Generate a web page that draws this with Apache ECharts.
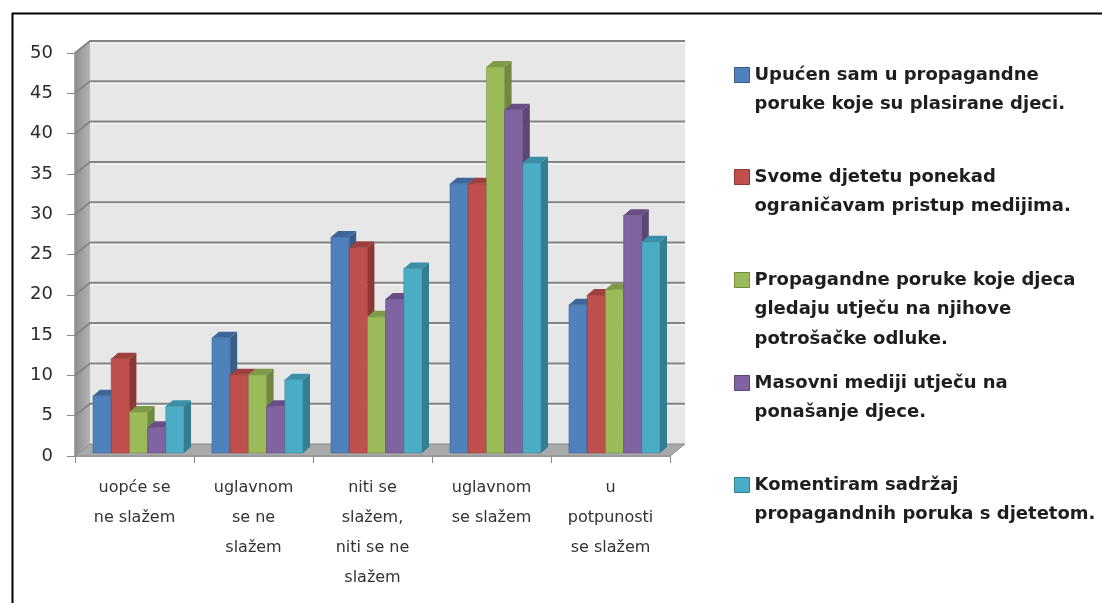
<!DOCTYPE html>
<html>
<head>
<meta charset="utf-8">
<script src="https://cdn.jsdelivr.net/npm/echarts@6/dist/echarts.min.js"></script>
<style>
  html, body { margin: 0; padding: 0; background: #fff; }
  #chart { width: 1102px; height: 603px; }
</style>
</head>
<body>
<div id="chart"></div>
<script>
// Kategorije (os x)
var categories = [
    'uopće se\nne slažem',
    'uglavnom\nse ne\nslažem',
    'niti se\nslažem,\nniti se ne\nslažem',
    'uglavnom\nse slažem',
    'u\npotpunosti\nse slažem'
];

// Nazivi serija (legenda)
var seriesNames = [
    'Upućen sam u propagandne\nporuke koje su plasirane djeci.',
    'Svome djetetu ponekad\nograničavam pristup medijima.',
    'Propagandne poruke koje djeca\ngledaju utječu na njihove\npotrošačke odluke.',
    'Masovni mediji utječu na\nponašanje djece.',
    'Komentiram sadržaj\npropagandnih poruka s djetetom.'
];

// Vrijednosti po serijama
var upucen = [7.1, 14.3, 26.8, 33.4, 18.4];
var ogranicavam = [11.7, 9.7, 25.5, 33.4, 19.6];
var propagandne = [5.1, 9.7, 16.9, 47.9, 20.3];
var masovni = [3.2, 5.8, 19.1, 42.6, 29.5];
var komentiram = [5.8, 9.1, 22.9, 36.0, 26.2];

// Oznake na osi y
var yTicks = [0, 5, 10, 15, 20, 25, 30, 35, 40, 45, 50];

var seriesValues = [upucen, ogranicavam, propagandne, masovni, komentiram];

var colors = ['#4F81BD', '#C0504D', '#9BBB59', '#8064A2', '#4BACC6'];
var sideColors = ['#385D8A', '#8C3836', '#71893F', '#5C4776', '#357D91'];
var topColors = ['#3D6799', '#9E403D', '#7E9A48', '#674F86', '#3B8FA6'];

// 3D dubina zidova i stupaca
var DX = 15, DY = -12;
var BDX = 7, BDY = -6;

var chartDom = document.getElementById('chart');
var myChart = echarts.init(chartDom);

// Zidovi i pod (pozadina 3D grafa)
function renderWalls(params, api) {
    var cs = params.coordSys;
    var x0 = cs.x, w = cs.width;
    var yTop = api.coord([0, 50])[1];
    var yBot = api.coord([0, 0])[1];
    var children = [];

    children.push({
        type: 'polygon',
        shape: { points: [[x0, yTop], [x0 + DX, yTop + DY], [x0 + DX, yBot + DY], [x0, yBot]] },
        style: {
            fill: new echarts.graphic.LinearGradient(0, 0, 1, 0, [
                { offset: 0, color: '#8e8e8e' },
                { offset: 1, color: '#b4b4b4' }
            ])
        }
    });
    children.push({
        type: 'rect',
        shape: { x: x0 + DX, y: yTop + DY, width: w, height: yBot - yTop },
        style: { fill: '#e7e7e7' }
    });
    children.push({
        type: 'polygon',
        shape: { points: [[x0, yBot], [x0 + w, yBot], [x0 + w + DX, yBot + DY], [x0 + DX, yBot + DY]] },
        style: { fill: '#a9a9a9', stroke: '#8a8a8a', lineWidth: 1 }
    });

    yTicks.forEach(function (v) {
        if (v === 0) return;
        var y = api.coord([0, v])[1];
        children.push({
            type: 'polyline',
            shape: { points: [[x0, y], [x0 + DX, y + DY], [x0 + DX + w, y + DY]] },
            style: { stroke: '#858585', lineWidth: 2, fill: null }
        });
        children.push({
            type: 'line',
            shape: { x1: x0 + DX, y1: y + DY + 2, x2: x0 + DX + w, y2: y + DY + 2 },
            style: { stroke: '#f6f6f6', lineWidth: 1 }
        });
    });
    return { type: 'group', children: children };
}

// Stupci s 3D izgledom
function makeBarRenderer(s) {
    return function (params, api) {
        var cat = api.value(0);
        var val = api.value(1);
        var base = api.coord([cat, 0]);
        var top = api.coord([cat, val]);
        var bw = api.size([1, 0])[0];
        var w = bw * 0.153;
        var x = base[0] - 2.5 * w + s * w + (DX - BDX) / 2;
        var shiftY = (DY - BDY) / 2;
        var yB = base[1] + shiftY;
        var yT = top[1] + shiftY;
        return {
            type: 'group',
            children: [
                {
                    type: 'rect',
                    shape: { x: x, y: yT, width: w, height: yB - yT },
                    style: { fill: colors[s], stroke: sideColors[s], lineWidth: 0.5 }
                },
                {
                    type: 'polygon',
                    shape: { points: [[x + w, yT], [x + w + BDX, yT + BDY], [x + w + BDX, yB + BDY], [x + w, yB]] },
                    style: { fill: sideColors[s] }
                },
                {
                    type: 'polygon',
                    shape: { points: [[x, yT], [x + BDX, yT + BDY], [x + w + BDX, yT + BDY], [x + w, yT]] },
                    style: { fill: topColors[s] }
                }
            ]
        };
    };
}

// Legenda: ikona poravnata s prvim redom teksta
var legendCenters = [75, 177, 280, 383, 485];
var LH = 29.5;

var legends = seriesNames.map(function (name, s) {
    var n = name.split('\n').length;
    return {
        orient: 'vertical',
        left: 734,
        top: legendCenters[s] - LH / 2 - (n - 1) * LH,
        padding: 0,
        icon: 'rect',
        itemWidth: 15,
        itemHeight: 15,
        itemGap: 0,
        selectedMode: false,
        data: [name],
        formatter: function (nm) {
            var pre = '';
            for (var k = 1; k < n; k++) pre += ' \n';
            return pre + nm;
        },
        itemStyle: { borderColor: sideColors[s], borderWidth: 1 },
        textStyle: {
            fontFamily: 'DejaVu Sans',
            fontWeight: 'bold',
            fontSize: 18,
            color: '#1e1e1e',
            lineHeight: LH
        }
    };
});

var series = [{
    type: 'custom',
    name: 'walls',
    silent: true,
    z: 1,
    clip: false,
    renderItem: renderWalls,
    data: [[0, 0]]
}];

seriesValues.forEach(function (vals, s) {
    series.push({
        type: 'custom',
        name: seriesNames[s],
        z: 2,
        clip: false,
        itemStyle: { color: colors[s] },
        renderItem: makeBarRenderer(s),
        data: vals.map(function (v, i) { return [i, v]; })
    });
});

var option = {
    animation: false,
    backgroundColor: '#ffffff',
    grid: { left: 75, right: 432, top: 53, bottom: 147 },
    legend: legends,
    xAxis: {
        type: 'category',
        data: categories,
        boundaryGap: true,
        axisLine: { show: true, lineStyle: { color: '#8a8a8a', width: 1.5 } },
        axisTick: { show: true, length: 7, alignWithLabel: false, lineStyle: { color: '#8a8a8a' } },
        axisLabel: {
            interval: 0,
            margin: 17,
            fontFamily: 'DejaVu Sans',
            fontSize: 16,
            lineHeight: 30,
            color: '#333333'
        },
        splitLine: { show: false }
    },
    yAxis: {
        type: 'value',
        min: 0,
        max: 50,
        interval: 5,
        axisLine: { show: true, lineStyle: { color: '#8a8a8a', width: 1.5 } },
        axisTick: { show: true, length: 8, lineStyle: { color: '#8a8a8a' } },
        axisLabel: {
            margin: 22,
            fontFamily: 'DejaVu Sans',
            fontSize: 18,
            color: '#2b2b2b'
        },
        splitLine: { show: false }
    },
    graphic: [{
        type: 'rect',
        left: 10,
        top: 11,
        shape: { width: 1200, height: 700 },
        style: { fill: null, stroke: '#000000', lineWidth: 2 },
        silent: true
    }],
    series: series
};

myChart.setOption(option);
</script>
</body>
</html>
